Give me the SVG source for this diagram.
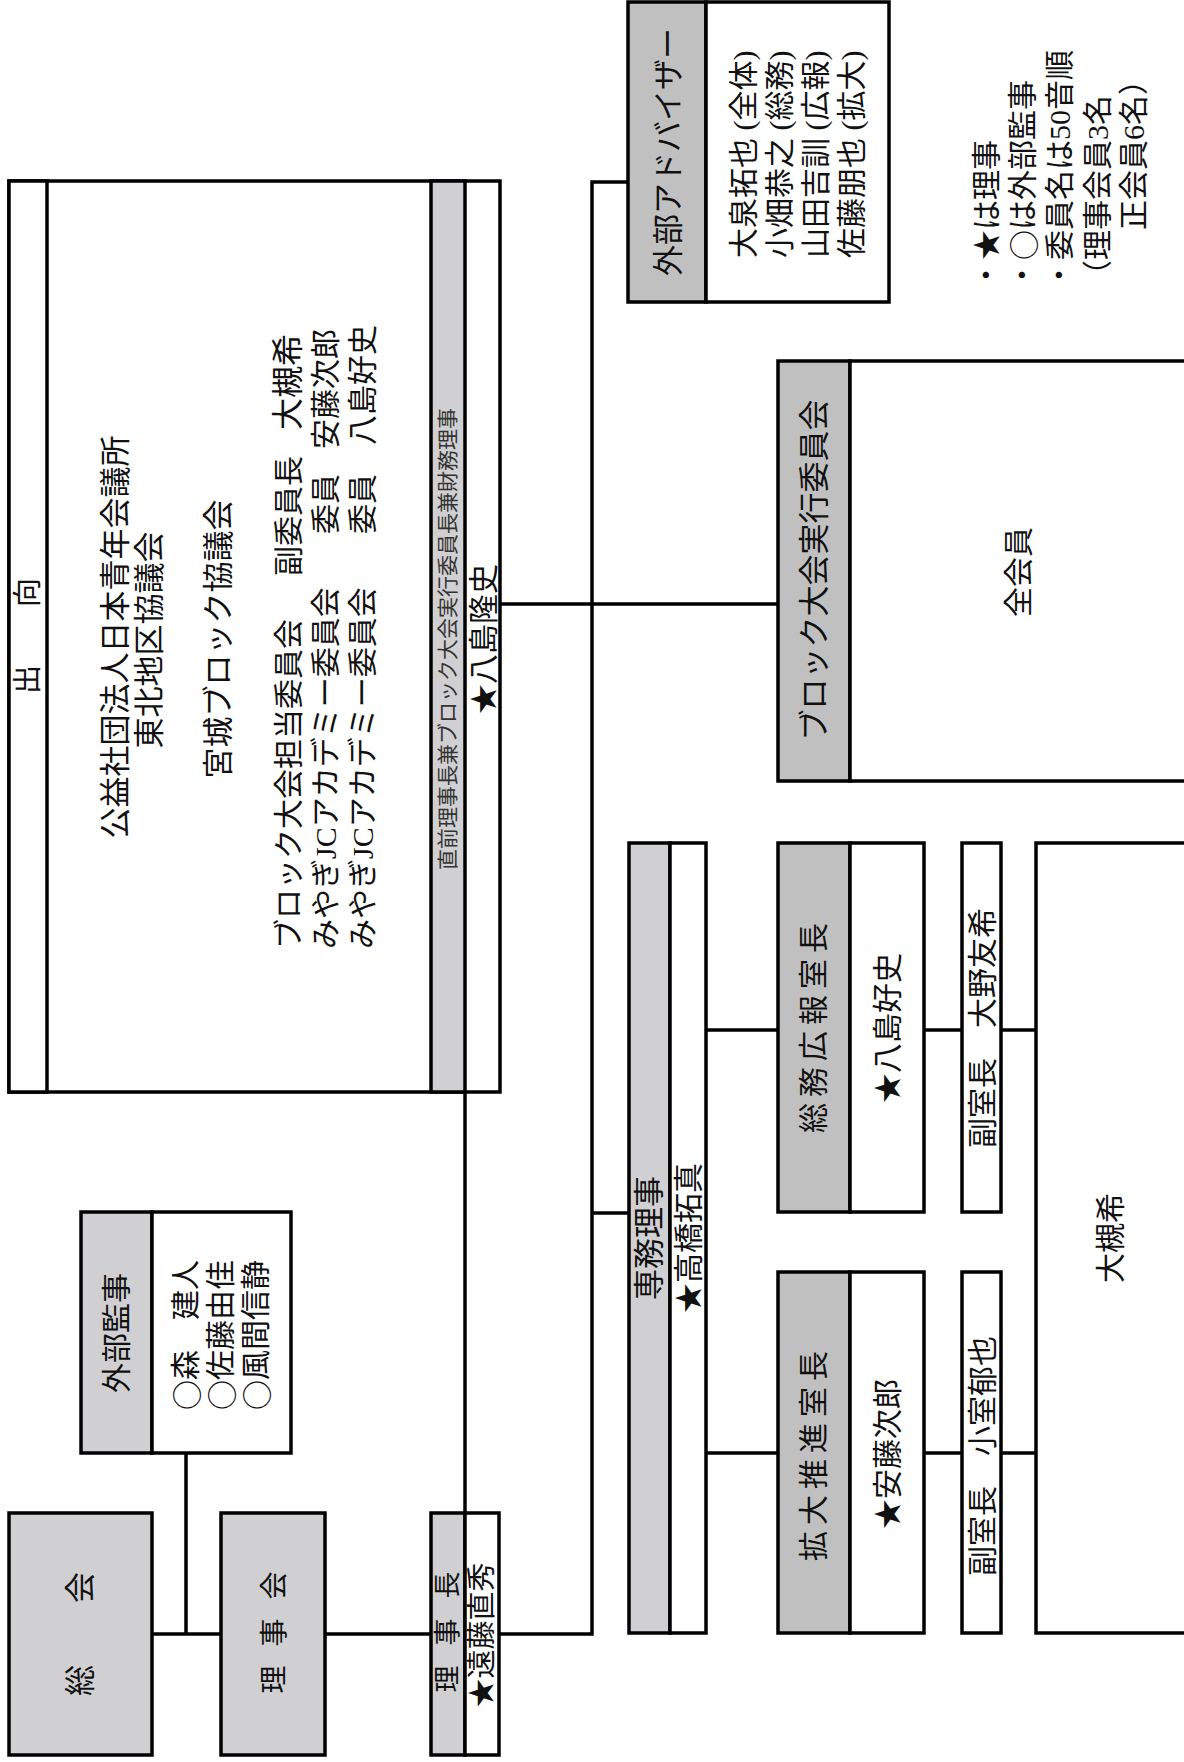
<svg xmlns="http://www.w3.org/2000/svg" width="1184" height="1762" viewBox="0 0 1184 1762">
<style>
.bx{stroke:#000;stroke-width:3.5;fill:#fff}
.g1{stroke:#000;stroke-width:3.5;fill:#d0cfd1}
.g2{stroke:#000;stroke-width:3.5;fill:#c0c0c0}
.ln{stroke:#000;stroke-width:3.5;fill:none}
text{font-family:"Liberation Serif","Noto Sans CJK JP",serif;font-size:30px;fill:#111;dominant-baseline:central}
.cj{font-family:"Noto Sans CJK JP",sans-serif}
.c{text-anchor:middle}
.s{text-anchor:start}
</style>
<rect width="1184" height="1762" fill="#fff"/>
<g id="connectors">
<line class="ln" x1="152" y1="1634" x2="221" y2="1634"/>
<line class="ln" x1="186" y1="1453" x2="186" y2="1634"/>
<line class="ln" x1="325" y1="1634" x2="431" y2="1634"/>
<line class="ln" x1="465" y1="1092" x2="465" y2="1513"/>
<polyline class="ln" points="499,1634 592,1634 592,182 628,182"/>
<line class="ln" x1="500" y1="604" x2="778" y2="604"/>
<line class="ln" x1="592" y1="1213" x2="629" y2="1213"/>
<line class="ln" x1="706" y1="1030" x2="778" y2="1030"/>
<line class="ln" x1="706" y1="1453" x2="778" y2="1453"/>
<line class="ln" x1="924" y1="1030" x2="962" y2="1030"/>
<line class="ln" x1="924" y1="1453" x2="962" y2="1453"/>
<line class="ln" x1="1001" y1="1030" x2="1036" y2="1030"/>
<line class="ln" x1="1001" y1="1453" x2="1036" y2="1453"/>
</g>
<g id="soukai">
<rect class="g1" x="9" y="1513" width="143" height="242"/>
<text class="c" transform="translate(80,1634) rotate(-90)" style="font-size:31px">総　　会</text>
</g>
<g id="rijikai">
<rect class="g1" x="221" y="1513" width="104" height="242"/>
<text class="c" transform="translate(274,1633) rotate(-90)" x="10" style="font-size:28px;letter-spacing:19px">理事会</text>
</g>
<g id="rijicho">
<rect class="g1" x="431" y="1513" width="34" height="242"/>
<rect class="bx" x="465" y="1513" width="34" height="242"/>
<text class="c" transform="translate(448,1632) rotate(-90)" x="10" style="font-size:27px;letter-spacing:20px">理事長</text>
<text class="c" transform="translate(482,1635) rotate(-90)" style="font-size:29px">★遠藤直秀</text>
</g>
<g id="gaibu-kanji">
<rect class="g1" x="81" y="1212" width="71" height="241"/>
<rect class="bx" x="152" y="1212" width="139" height="241"/>
<text class="c" transform="translate(116,1333) rotate(-90)">外部監事</text>
<text class="s" transform="translate(185,1410) rotate(-90)"><tspan class="cj">○</tspan>森　建人</text>
<text class="s" transform="translate(220,1410) rotate(-90)"><tspan class="cj">○</tspan>佐藤由佳</text>
<text class="s" transform="translate(255,1410) rotate(-90)"><tspan class="cj">○</tspan>風間信静</text>
</g>
<g id="shukko">
<rect class="bx" x="9" y="181" width="491" height="911"/>
<rect class="bx" x="9" y="181" width="38" height="911"/>
<rect class="g1" x="431" y="181" width="34" height="911"/>
<text class="c" transform="translate(28,636) rotate(-90)" style="font-size:29px">出　　向</text>
<text class="c" transform="translate(115,637) rotate(-90)" style="font-size:31px">公益社団法人日本青年会議所</text>
<text class="c" transform="translate(149,640) rotate(-90)" style="font-size:31px">東北地区協議会</text>
<text class="c" transform="translate(218,639) rotate(-90)" style="font-size:31px">宮城ブロック協議会</text>
<text class="s" transform="translate(288,949) rotate(-90)">ブロック大会担当委員会</text>
<text class="s" transform="translate(288,576) rotate(-90)">副委員長</text>
<text class="s" transform="translate(288,430) rotate(-90)" style="font-size:32px">大槻希</text>
<text class="s" transform="translate(325,949) rotate(-90)">みやぎJCアカデミー委員会</text>
<text class="s" transform="translate(325,534) rotate(-90)">委員</text>
<text class="s" transform="translate(325,449) rotate(-90)">安藤次郎</text>
<text class="s" transform="translate(362,949) rotate(-90)">みやぎJCアカデミー委員会</text>
<text class="s" transform="translate(362,534) rotate(-90)">委員</text>
<text class="s" transform="translate(362,445) rotate(-90)">八島好史</text>
<text class="c" transform="translate(448,639) rotate(-90)" style="font-size:21px;fill:#333">直前理事長兼ブロック大会実行委員長兼財務理事</text>
<text class="c" transform="translate(483,639) rotate(-90)">★八島隆史</text>
</g>
<g id="advisor">
<rect class="g2" x="628" y="2" width="78" height="300"/>
<rect class="bx" x="706" y="2" width="183" height="300"/>
<text class="c" transform="translate(668,152) rotate(-90)" style="font-size:31px">外部アドバイザー</text>
<text class="s" transform="translate(743,258) rotate(-90)">大泉拓也 (全体)</text>
<text class="s" transform="translate(779,258) rotate(-90)">小畑恭之 (総務)</text>
<text class="s" transform="translate(815,258) rotate(-90)">山田吉訓 (広報)</text>
<text class="s" transform="translate(851,258) rotate(-90)">佐藤朋也 (拡大)</text>
</g>
<g id="notes">
<text class="s" transform="translate(986,290) rotate(-90)">・★は理事</text>
<text class="s" transform="translate(1022,290) rotate(-90)">・<tspan class="cj">○</tspan>は外部監事</text>
<text class="s" transform="translate(1059,290) rotate(-90)">・委員名は50音順</text>
<text class="s" transform="translate(1097,290) rotate(-90)">（理事会員3名</text>
<text class="s" transform="translate(1133,230) rotate(-90)">正会員6名）</text>
</g>
<g id="block-taikai">
<rect class="g2" x="778" y="361" width="72" height="420"/>
<rect class="bx" x="850" y="361" width="360" height="420"/>
<text class="c" transform="translate(814,570) rotate(-90)" style="font-size:31px">ブロック大会実行委員会</text>
<text class="c" transform="translate(1018,572) rotate(-90)">全会員</text>
</g>
<g id="senmu">
<rect class="g1" x="629" y="843" width="41" height="790"/>
<rect class="bx" x="670" y="843" width="36" height="790"/>
<text class="c" transform="translate(649,1238) rotate(-90)" style="font-size:31px">専務理事</text>
<text class="c" transform="translate(688,1238) rotate(-90)">★高橋拓真</text>
</g>
<g id="somu">
<rect class="g2" x="778" y="843" width="72" height="369"/>
<rect class="bx" x="850" y="843" width="74" height="369"/>
<text class="c" transform="translate(813,1028) rotate(-90)" x="3" style="letter-spacing:6px">総務広報室長</text>
<text class="c" transform="translate(887,1028) rotate(-90)">★八島好史</text>
</g>
<g id="kakudai">
<rect class="g2" x="778" y="1272" width="72" height="361"/>
<rect class="bx" x="850" y="1272" width="74" height="361"/>
<text class="c" transform="translate(813,1456) rotate(-90)" x="3" style="letter-spacing:6px">拡大推進室長</text>
<text class="c" transform="translate(887,1454) rotate(-90)">★安藤次郎</text>
</g>
<g id="fuku-somu">
<rect class="bx" x="962" y="843" width="39" height="369"/>
<text class="c" transform="translate(982,1028) rotate(-90)">副室長　大野友希</text>
</g>
<g id="fuku-kakudai">
<rect class="bx" x="962" y="1272" width="39" height="361"/>
<text class="c" transform="translate(982,1456) rotate(-90)">副室長　小室郁也</text>
</g>
<g id="otsuki">
<rect class="bx" x="1036" y="843" width="170" height="790"/>
<text class="c" transform="translate(1110,1238) rotate(-90)">大槻希</text>
</g>
</svg>
